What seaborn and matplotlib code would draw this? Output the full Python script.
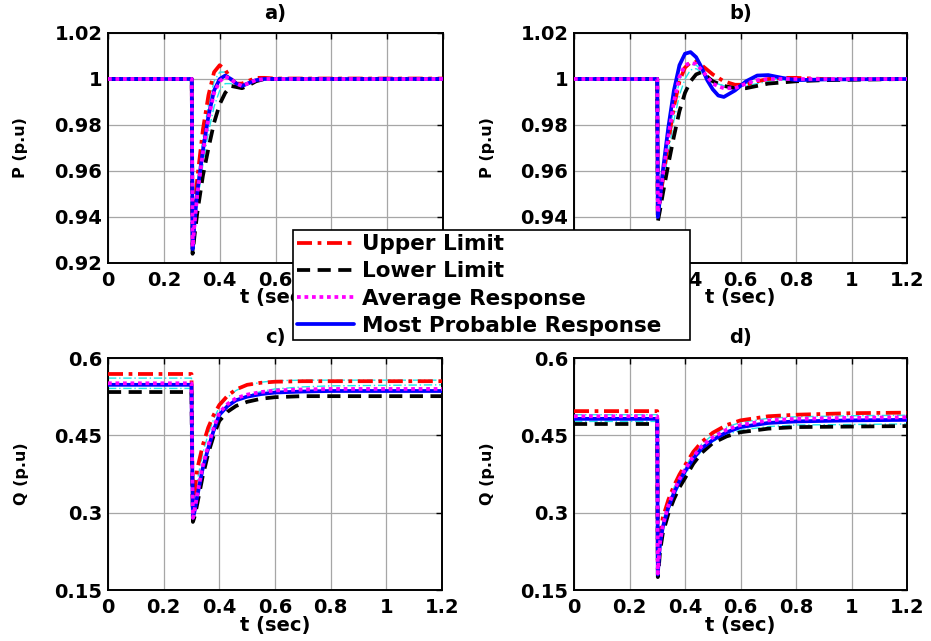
import numpy as np
import pandas as pd
import matplotlib
matplotlib.use("Agg")
import matplotlib.pyplot as plt
import seaborn as sns

# ---------------- data ----------------
t_a = [0, 0.3, 0.303, 0.31, 0.32, 0.34, 0.36, 0.38, 0.40, 0.42, 0.44, 0.46, 0.48, 0.50, 0.53, 0.56, 0.6, 1.2]
a_upper = [1, 1, 0.928, 0.942, 0.957, 0.978, 0.993, 1.003, 1.006, 1.004, 1.000, 0.998, 0.998, 0.999, 1.0005, 1.0005, 1.0002, 1.0002]
a_lower = [1, 1, 0.924, 0.932, 0.942, 0.958, 0.970, 0.981, 0.989, 0.994, 0.997, 0.9965, 0.996, 0.997, 0.999, 1.0, 1.0, 1.0]
a_avg = [1, 1, 0.927, 0.937, 0.950, 0.968, 0.983, 0.994, 0.999, 1.001, 1.000, 0.998, 0.997, 0.998, 0.9995, 1.0, 1.0, 1.0]
a_mp = [1, 1, 0.926, 0.938, 0.951, 0.969, 0.984, 0.995, 1.000, 1.0015, 1.000, 0.998, 0.997, 0.998, 0.9995, 1.0, 1.0, 1.0]
a_s1 = [1, 1, 0.927, 0.940, 0.954, 0.974, 0.989, 0.999, 1.003, 1.003, 1.000, 0.998, 0.9975, 0.9985, 1.0, 1.0005, 1.0, 1.0]
a_s2 = [1, 1, 0.925, 0.935, 0.946, 0.963, 0.977, 0.988, 0.995, 0.998, 0.998, 0.997, 0.9965, 0.9975, 0.9995, 1.0, 1.0, 1.0]

t_b = [0, 0.3, 0.302, 0.31, 0.32, 0.34, 0.36, 0.38, 0.40, 0.42, 0.44, 0.46, 0.48, 0.50, 0.52, 0.54, 0.58, 0.62, 0.66, 0.70, 0.75, 0.8, 0.9, 1.2]
b_upper = [1, 1, 0.941, 0.947, 0.956, 0.973, 0.988, 0.999, 1.005, 1.0072, 1.0075, 1.006, 1.004, 1.002, 1.0005, 0.999, 0.9975, 0.9975, 0.999, 1.0, 1.0005, 1.0005, 1.0, 1.0]
b_lower = [1, 1, 0.938, 0.943, 0.950, 0.963, 0.975, 0.986, 0.994, 0.999, 1.002, 1.003, 1.001, 0.999, 0.998, 0.997, 0.996, 0.996, 0.997, 0.998, 0.9985, 0.999, 0.9995, 1.0]
b_avg = [1, 1, 0.942, 0.948, 0.958, 0.975, 0.990, 1.001, 1.006, 1.007, 1.0065, 1.004, 1.001, 0.998, 0.9968, 0.996, 0.996, 0.998, 0.9995, 1.0, 1.0, 1.0, 1.0, 1.0]
b_mp = [1, 1, 0.940, 0.948, 0.960, 0.979, 0.995, 1.006, 1.011, 1.0117, 1.0095, 1.005, 0.9995, 0.9955, 0.9928, 0.9922, 0.995, 0.999, 1.0015, 1.0017, 1.0005, 0.9995, 0.9998, 1.0]
b_s1 = [1, 1, 0.940, 0.946, 0.956, 0.973, 0.988, 0.999, 1.005, 1.0065, 1.006, 1.004, 1.001, 0.999, 0.9978, 0.997, 0.9965, 0.998, 0.9995, 1.0, 1.0, 1.0, 1.0, 1.0]
b_s2 = [1, 1, 0.939, 0.945, 0.953, 0.968, 0.982, 0.993, 1.000, 1.004, 1.0045, 1.003, 1.001, 0.999, 0.998, 0.997, 0.9965, 0.997, 0.998, 0.999, 0.9995, 1.0, 1.0, 1.0]

t_c = [0, 0.3, 0.302, 0.305, 0.31, 0.32, 0.34, 0.36, 0.38, 0.40, 0.43, 0.46, 0.50, 0.55, 0.6, 0.7, 0.8, 1.2]
c_upper = [0.569, 0.569, 0.45, 0.30, 0.33, 0.383, 0.43, 0.465, 0.49, 0.509, 0.527, 0.539, 0.548, 0.552, 0.554, 0.555, 0.555, 0.555]
c_lower = [0.534, 0.534, 0.40, 0.282, 0.29, 0.315, 0.37, 0.415, 0.45, 0.478, 0.496, 0.507, 0.515, 0.521, 0.524, 0.526, 0.526, 0.526]
c_avg = [0.551, 0.551, 0.42, 0.29, 0.302, 0.334, 0.39, 0.43, 0.465, 0.494, 0.511, 0.522, 0.529, 0.534, 0.537, 0.539, 0.540, 0.540]
c_mp = [0.548, 0.548, 0.42, 0.29, 0.30, 0.33, 0.385, 0.425, 0.46, 0.49, 0.507, 0.518, 0.525, 0.530, 0.533, 0.535, 0.536, 0.536]
c_s1 = [0.561, 0.561, 0.44, 0.295, 0.315, 0.36, 0.415, 0.452, 0.482, 0.505, 0.524, 0.537, 0.547, 0.553, 0.556, 0.557, 0.557, 0.557]
c_s2 = [0.541, 0.541, 0.41, 0.286, 0.296, 0.325, 0.38, 0.42, 0.455, 0.486, 0.505, 0.517, 0.527, 0.535, 0.540, 0.544, 0.546, 0.548]

t_d = [0, 0.3, 0.302, 0.305, 0.31, 0.32, 0.34, 0.36, 0.38, 0.40, 0.43, 0.46, 0.50, 0.55, 0.6, 0.7, 0.8, 1.0, 1.2]
d_upper = [0.497, 0.497, 0.19, 0.22, 0.255, 0.29, 0.325, 0.352, 0.374, 0.392, 0.418, 0.437, 0.455, 0.470, 0.479, 0.487, 0.490, 0.493, 0.494]
d_lower = [0.472, 0.472, 0.175, 0.19, 0.225, 0.26, 0.298, 0.326, 0.349, 0.367, 0.395, 0.416, 0.435, 0.448, 0.456, 0.463, 0.466, 0.467, 0.468]
d_avg = [0.487, 0.487, 0.182, 0.208, 0.243, 0.276, 0.314, 0.342, 0.365, 0.384, 0.409, 0.429, 0.446, 0.461, 0.470, 0.479, 0.482, 0.484, 0.485]
d_mp = [0.482, 0.482, 0.18, 0.205, 0.24, 0.272, 0.31, 0.338, 0.361, 0.38, 0.405, 0.425, 0.441, 0.456, 0.466, 0.474, 0.477, 0.479, 0.480]
d_s1 = [0.490, 0.490, 0.185, 0.214, 0.25, 0.284, 0.32, 0.348, 0.37, 0.388, 0.414, 0.433, 0.451, 0.466, 0.475, 0.483, 0.486, 0.488, 0.489]
d_s2 = [0.477, 0.477, 0.178, 0.198, 0.232, 0.266, 0.303, 0.331, 0.354, 0.373, 0.399, 0.42, 0.438, 0.451, 0.46, 0.467, 0.47, 0.471, 0.472]

panel_titles = ["a)", "b)", "c)", "d)"]
y_labels = ["P (p.u)", "P (p.u)", "Q (p.u)", "Q (p.u)"]
x_label = "t (sec)"
legend_labels = ["Upper Limit", "Lower Limit", "Average Response", "Most Probable Response"]
x_ticks = [0, 0.2, 0.4, 0.6, 0.8, 1, 1.2]
x_ticklabels = ["0", "0.2", "0.4", "0.6", "0.8", "1", "1.2"]
p_ticks = [0.92, 0.94, 0.96, 0.98, 1.0, 1.02]
p_ticklabels = ["0.92", "0.94", "0.96", "0.98", "1", "1.02"]
q_ticks = [0.15, 0.3, 0.45, 0.6]
q_ticklabels = ["0.15", "0.3", "0.45", "0.6"]

panels = [
    (t_a, a_upper, a_lower, a_avg, a_mp, a_s1, a_s2),
    (t_b, b_upper, b_lower, b_avg, b_mp, b_s1, b_s2),
    (t_c, c_upper, c_lower, c_avg, c_mp, c_s1, c_s2),
    (t_d, d_upper, d_lower, d_avg, d_mp, d_s1, d_s2),
]

# ---------------- styling ----------------
sns.set_theme(style="white")
plt.rcParams["font.family"] = ["DejaVu Sans"]
plt.rcParams["font.weight"] = "bold"
for k in ["text.color", "axes.labelcolor", "xtick.color", "ytick.color"]:
    plt.rcParams[k] = "black"

FS = 14
fig = plt.figure(figsize=(9.31, 6.41), dpi=100)
W, H = 931, 641
boxes = [
    (108, 33, 443, 263),
    (574, 33, 907, 263),
    (108, 358, 442, 590),
    (574, 358, 907, 590),
]

handles = None
for i, (box, data) in enumerate(zip(boxes, panels)):
    x0, y0, x1, y1 = box
    ax = fig.add_axes([x0 / W, 1 - y1 / H, (x1 - x0) / W, (y1 - y0) / H])
    t, up, lo, av, mp, s1, s2 = data
    # thin cyan sample responses
    for s in (s1, s2):
        sns.lineplot(x=t, y=s, ax=ax, color="#22e6e6", lw=1.0, linestyle=(0, (6, 2, 1, 2)), zorder=2)
    l1 = sns.lineplot(x=t, y=up, ax=ax, color="red", lw=2.7, linestyle=(0, (4, 1.5, 1, 1.5)), zorder=3).lines[-1]
    l2 = sns.lineplot(x=t, y=lo, ax=ax, color="black", lw=2.7, linestyle=(0, (3.5, 2)), zorder=3).lines[-1]
    l3 = sns.lineplot(x=t, y=av, ax=ax, color="#ff00ff", lw=2.7, linestyle=(0, (1, 1)), zorder=5).lines[-1]
    l4 = sns.lineplot(x=t, y=mp, ax=ax, color="blue", lw=2.7, linestyle="-", zorder=4).lines[-1]
    if handles is None:
        handles = [l1, l2, l3, l4]

    ax.set_xlim(0, 1.2)
    ax.set_xticks(x_ticks)
    ax.set_xticklabels(x_ticklabels)
    if i < 2:
        ax.set_ylim(0.92, 1.02)
        ax.set_yticks(p_ticks)
        ax.set_yticklabels(p_ticklabels)
    else:
        ax.set_ylim(0.15, 0.6)
        ax.set_yticks(q_ticks)
        ax.set_yticklabels(q_ticklabels)
    ax.grid(True, color="#a6a6a6", lw=0.9)
    ax.set_axisbelow(True)
    for sp in ax.spines.values():
        sp.set_color("black")
        sp.set_linewidth(1.4)
    ax.tick_params(direction="in", length=4, width=1, top=True, right=True,
                   labelsize=FS, colors="black")
    ax.tick_params(axis="x", pad=6)
    ax.tick_params(axis="y", pad=4)
    for lab in ax.get_xticklabels() + ax.get_yticklabels():
        lab.set_fontweight("bold")
    ax.text(0.5, 1 + 20 / 230, panel_titles[i], transform=ax.transAxes,
            ha="center", va="center", fontsize=FS, fontweight="bold")
    ax.set_xlabel(x_label, fontsize=FS, fontweight="bold", va="center")
    ax.xaxis.set_label_coords(0.5, -35 / 230)
    ax.set_ylabel(y_labels[i], fontsize=11.5, fontweight="bold", va="center")
    ax.yaxis.set_label_coords(-0.26, 0.5)

leg = fig.legend(handles, legend_labels,
                 loc="upper left", mode="expand",
                 bbox_to_anchor=(293 / W, 1 - 230 / H, 397 / W, 0.0),
                 frameon=True, fancybox=False, framealpha=1,
                 edgecolor="black",
                 prop={"weight": "bold", "size": 15.5},
                 handlelength=2.65, labelspacing=0.33, borderpad=0.2,
                 handletextpad=0.35, borderaxespad=0)
leg.get_frame().set_linewidth(1.2)
leg.set_zorder(10)

fig.savefig("out.png", dpi=100)
